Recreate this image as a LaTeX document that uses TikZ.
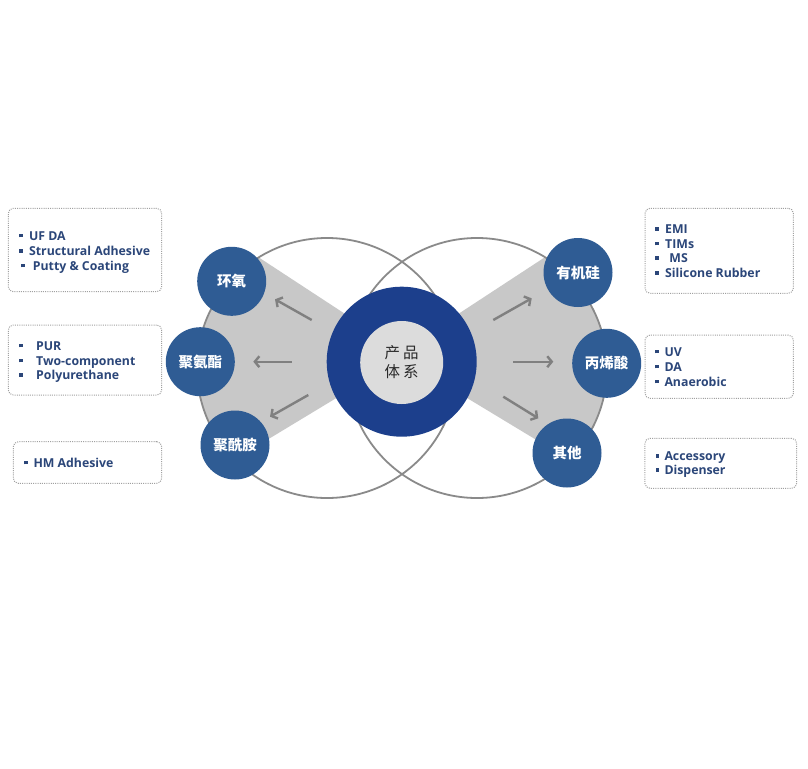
\documentclass[tikz,border=0pt]{standalone}
\usepackage{fontspec}
\setmainfont{Open Sans}
\newfontfamily\cjk{Noto Sans CJK SC}
\usetikzlibrary{arrows.meta}
\definecolor{ringblue}{HTML}{1C3F8C}
\definecolor{ballblue}{HTML}{2F5C94}
\definecolor{wedgegray}{HTML}{C8C8C8}
\definecolor{coregray}{HTML}{DCDCDC}
\definecolor{linegray}{HTML}{8A8A8A}
\definecolor{arrowgray}{HTML}{808080}
\definecolor{boxgray}{HTML}{A0A0A0}
\definecolor{txtblue}{HTML}{2B4679}
\definecolor{coretxt}{HTML}{2A2A2A}
\newcommand\itm[2]{\rule[2.7pt]{3.4pt}{3.4pt}\hspace{#1pt}#2}
\tikzset{
  bigcirc/.style={draw=linegray, line width=1.8pt},
  wedge/.style={fill=wedgegray},
  arr/.style={draw=arrowgray, line width=2.4pt, -{Straight Barb[length=4.5pt,width=11pt]}},
  ball/.style={circle, fill=ballblue, minimum size=69pt, inner sep=0pt, text=white,
    font=\cjk\bfseries\fontsize{14.5}{16}\selectfont},
  infobox/.style={draw=boxgray, line width=1pt, dash pattern=on 1pt off 1.2pt,
    rounded corners=5pt, inner sep=0pt},
  item/.style={anchor=base west, inner sep=0pt, text=txtblue,
    font=\bfseries\fontsize{12.3}{15}\selectfont}
}
\begin{document}
\begin{tikzpicture}[x=1pt,y=-1pt]
\useasboundingbox (0,0) rectangle (808,768);
\fill[white] (0,0) rectangle (808,768);
% wedges
\begin{scope}
  \clip (327,368) circle (130pt);
  \fill[wedge] (401.7,351) -- (150,186.2) -- (150,510.7) -- (401.7,358.5) -- cycle;
\end{scope}
\begin{scope}
  \clip (477,368) circle (130pt);
  \fill[wedge] (401.7,351) -- (653.4,186.2) -- (653.4,510.7) -- (401.7,358.5) -- cycle;
\end{scope}
% big circles
\draw[bigcirc] (327,368) circle (130pt);
\draw[bigcirc] (477,368) circle (130pt);
% arrows
\coordinate (a1s) at (311.7,320);   \coordinate (a1e) at (275,299.3);
\coordinate (a2s) at (291.7,361.7); \coordinate (a2e) at (253.3,361.7);
\coordinate (a3s) at (308.3,395);   \coordinate (a3e) at (270,416.7);
\coordinate (a4s) at (493.3,320);   \coordinate (a4e) at (531.7,298.3);
\coordinate (a5s) at (513.3,361.7); \coordinate (a5e) at (553.3,361.7);
\coordinate (a6s) at (503.3,396.7); \coordinate (a6e) at (538.3,418.3);
\draw[arr] (a1s) -- (a1e);
\draw[arr] (a2s) -- (a2e);
\draw[arr] (a3s) -- (a3e);
\draw[arr] (a4s) -- (a4e);
\draw[arr] (a5s) -- (a5e);
\draw[arr] (a6s) -- (a6e);
% center ring
\node[circle, fill=ringblue, minimum size=150pt, inner sep=0pt] (ring) at (401.7,361.7) {};
\node[circle, fill=coregray, minimum size=83pt, inner sep=0pt, align=center, text=coretxt,
  font=\cjk\fontsize{15.5}{19}\selectfont] (core) at (401.7,362.5) {产\hspace{3pt}品\\体\hspace{3pt}系};
% product balls
\node[ball] (hy) at (231.7,281.3) {环氧};
\node[ball] (ja) at (200.3,361.7) {聚氨酯};
\node[ball] (xa) at (235,445) {聚酰胺};
\node[ball] (yj) at (578,272.5) {有机硅};
\node[ball] (bx) at (606.7,363.3) {丙烯酸};
\node[ball] (qt) at (567,453) {其他};
% info boxes
\node[infobox, minimum width=153.4pt, minimum height=83.4pt] (bl1) at (85,250) {};
\node[infobox, minimum width=153.4pt, minimum height=70pt] (bl2) at (85,360) {};
\node[infobox, minimum width=148.4pt, minimum height=41.6pt] (bl3) at (87.5,462.5) {};
\node[infobox, minimum width=148.3pt, minimum height=85pt] (br1) at (719.2,250.8) {};
\node[infobox, minimum width=148.3pt, minimum height=63.3pt] (br2) at (719.2,366.7) {};
\node[infobox, minimum width=151.7pt, minimum height=50pt] (br3) at (720.8,463.3) {};
% items
\node[item] (l1a) at (19,240) {\itm{6.5}{UF DA}};
\node[item] (l1b) at (19,255.2) {\itm{6.5}{Structural Adhesive}};
\node[item] (l1c) at (21,270) {\itm{8.3}{Putty \& Coating}};
\node[item] (l2a) at (19,350) {\itm{13.6}{PUR}};
\node[item] (l2b) at (19,365) {\itm{13.6}{Two-component}};
\node[item] (l2c) at (19,379.2) {\itm{13.6}{Polyurethane}};
\node[item] (l3a) at (24,467) {\itm{5.9}{HM Adhesive}};
\node[item] (r1a) at (655,233.5) {\itm{6.6}{EMI}};
\node[item] (r1b) at (655,248) {\itm{6.6}{TIMs}};
\node[item] (r1c) at (655,262.5) {\itm{10.8}{MS}};
\node[item] (r1d) at (655,277.5) {\itm{6.6}{Silicone Rubber}};
\node[item] (r2a) at (655,356) {\itm{5.9}{UV}};
\node[item] (r2b) at (655,371) {\itm{5.9}{DA}};
\node[item] (r2c) at (655,386) {\itm{5.9}{Anaerobic}};
\node[item] (r3a) at (655.7,460.2) {\itm{5.2}{Accessory}};
\node[item] (r3b) at (655.7,474.2) {\itm{5.2}{Dispenser}};
\end{tikzpicture}
\end{document}
